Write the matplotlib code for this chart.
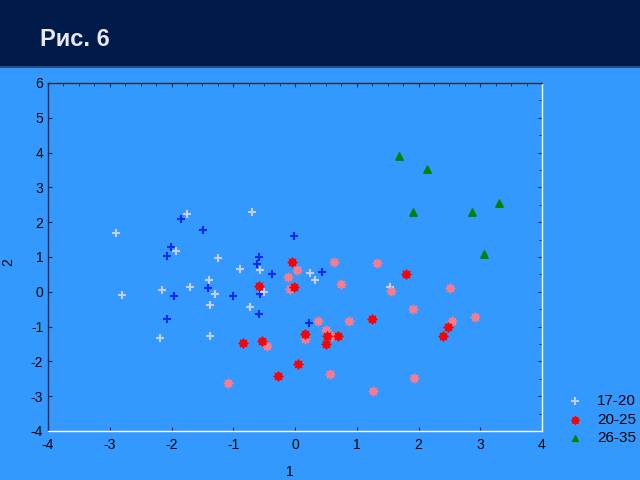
import matplotlib
matplotlib.use("Agg")
import matplotlib.pyplot as plt
from matplotlib.patches import Rectangle
from matplotlib.ticker import MultipleLocator

plt.rcParams['font.family'] = ['Liberation Sans', 'DejaVu Sans']
plt.rcParams['axes.unicode_minus'] = False

title_text = "Рис. 6"
x_label = "1"
y_label = "2"
legend_labels = ["17-20", "20-25", "26-35"]

# Group 17-20 (light and dark shaded crosses)
g1_light_x = [-2.90, -1.75, -0.69, -1.92, -1.25, -0.56, -0.89, -1.39, -1.70, -1.30,
              -2.80, -0.50, -1.37, -0.73, -2.18, -1.38, 0.25, 0.33, 1.54, -2.15]
g1_light_y = [1.70, 2.23, 2.28, 1.16, 0.97, 0.64, 0.66, 0.34, 0.14, -0.05,
              -0.09, -0.02, -0.39, -0.43, -1.33, -1.28, 0.55, 0.34, 0.14, 0.05]
g1_dark_x = [-1.84, -1.49, -0.02, -2.01, -2.08, -0.59, -0.62, -0.38, -1.41, -1.96,
             -1.00, -0.56, -0.59, -2.07, 0.44, 0.22]
g1_dark_y = [2.09, 1.78, 1.59, 1.28, 1.03, 1.01, 0.79, 0.52, 0.11, -0.11,
             -0.11, -0.06, -0.63, -0.79, 0.58, -0.89]

# Group 20-25 (bright and pale asterisks)
g2_bright_x = [-0.05, -0.58, -0.02, -0.85, -0.53, -0.27, 0.16, 1.24, 2.47, 2.40,
               0.52, 0.69, 0.51, 1.80, 0.05]
g2_bright_y = [0.86, 0.16, 0.14, -1.48, -1.41, -2.41, -1.21, -0.79, -1.01, -1.26,
               -1.26, -1.26, -1.50, 0.50, -2.07]
g2_pale_x = [0.03, -0.12, -0.08, -0.46, -1.09, 0.16, 0.63, 1.33, 0.74, 1.55,
             2.51, 1.91, 0.38, 0.87, 2.91, 2.55, 0.51, 0.60, 0.57, 1.92, 1.27]
g2_pale_y = [0.62, 0.42, 0.07, -1.56, -2.62, -1.36, 0.85, 0.82, 0.23, 0.02,
             0.10, -0.49, -0.83, -0.83, -0.71, -0.85, -1.09, -1.28, -2.36, -2.47, -2.85]

# Group 26-35
g3_x = [1.68, 2.14, 1.91, 2.86, 3.30, 3.06]
g3_y = [3.89, 3.53, 2.29, 2.28, 2.56, 1.08]

BG = '#3399FF'
fig = plt.figure(figsize=(6.4, 4.8), dpi=100, facecolor=BG)
fig.patches.append(Rectangle((0, 1 - 66/480), 1, 66/480, transform=fig.transFigure,
                             facecolor='#001A4A', edgecolor='none', zorder=0))
fig.patches.append(Rectangle((0, 1 - 68/480), 1, 2/480, transform=fig.transFigure,
                             facecolor='#1F4E8C', edgecolor='none', zorder=0))
fig.text(40/640, 1 - 39/480, title_text, color='#E8E8F8', fontsize=17,
         fontweight='bold', va='center', ha='left')

ax = fig.add_axes([48/640, 1 - 431/480, (542-48)/640, (431-83)/480])
ax.set_facecolor(BG)
ax.set_xlim(-4, 4)
ax.set_ylim(-4, 6)
ax.xaxis.set_major_locator(MultipleLocator(1))
ax.yaxis.set_major_locator(MultipleLocator(1))
ax.xaxis.set_minor_locator(MultipleLocator(0.25))
ax.yaxis.set_minor_locator(MultipleLocator(0.5))
ax.tick_params(which='both', direction='in', top=True, right=True, colors='#1A2A4A',
               labelcolor='black', labelsize=10)
ax.tick_params(which='major', length=3, width=0.8)
ax.tick_params(which='minor', length=2, width=0.6, bottom=False, left=False)
ax.tick_params(axis='x', pad=5)
for s in ['left', 'top']:
    ax.spines[s].set_color('#1A2A4A')
for s in ['right', 'bottom']:
    ax.spines[s].set_color('white')
for s in ax.spines.values():
    s.set_linewidth(1.0)

ax.set_xlabel(x_label, fontsize=10)
ax.set_ylabel(y_label, fontsize=10)
ax.xaxis.set_label_coords((290 - 48) / 494, (431 - 465) / 348)
ax.yaxis.set_label_coords((15 - 48) / 494, (431 - 262) / 348)

ax.scatter(g1_dark_x, g1_dark_y, marker='+', s=40, color='#0A2AF0', linewidths=1.5, zorder=3)
ax.scatter(g1_light_x, g1_light_y, marker='+', s=40, color='#C8CCFF', linewidths=1.5, zorder=3,
           label=legend_labels[0])
ax.scatter(g2_pale_x, g2_pale_y, marker=(8, 2, 0), s=34, color='#FF7A8A', linewidths=1.2, zorder=4)
ax.scatter(g2_bright_x, g2_bright_y, marker=(8, 2, 0), s=34, color='#FF0000', linewidths=1.3, zorder=4,
           label=legend_labels[1])
ax.scatter(g3_x, g3_y, marker='^', s=28, color='#008000', zorder=5, label=legend_labels[2])

handles, labels = ax.get_legend_handles_labels()
fig.legend(handles, labels, loc='upper left', bbox_to_anchor=(567/640, 1 - 394/480),
           frameon=False, fontsize=11, handlelength=1.0, handletextpad=0.95,
           labelspacing=0.3, borderpad=0, borderaxespad=0,
           scatterpoints=1, markerscale=0.8)

fig.savefig('out.png', dpi=100, facecolor=BG)
